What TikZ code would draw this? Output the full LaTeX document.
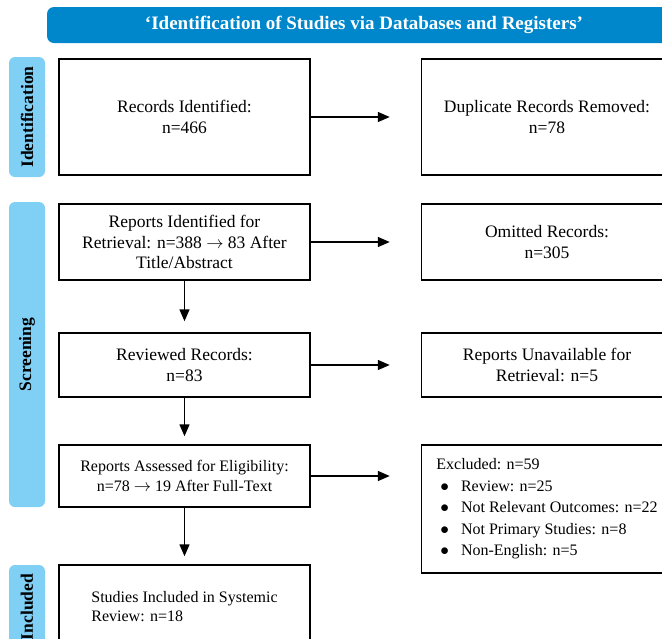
\documentclass[tikz,border=0pt]{standalone}
\usepackage{fontspec}
\setmainfont{Liberation Serif}
\usepackage{tikz}
\usetikzlibrary{arrows.meta, positioning, calc}
\definecolor{headblue}{RGB}{0, 134, 203}
\definecolor{sideblue}{RGB}{128, 208, 246}
\tikzset{
  headbar/.style={rectangle, fill=headblue, rounded corners=7pt, minimum width=634pt, minimum height=36pt, text=white, font=\fontsize{19}{22}\selectfont\bfseries},
  stagebar/.style={rectangle, fill=sideblue, rounded corners=6pt, rotate=90, minimum width=#1, minimum height=36pt, inner sep=0pt, font=\fontsize{17.5}{20}\selectfont\bfseries},
  flowbox/.style={rectangle, draw=black, line width=1.5pt, minimum width=251pt, minimum height=#1, align=center, font=\fontsize{17.5}{20.5}\selectfont},
  smalltext/.style={font=\fontsize{16}{20.5}\selectfont},
  flowarrow/.style={-{Triangle[length=12pt,width=10pt]}, line width=1.5pt},
}
\newcommand{\excitem}{\hspace*{4pt}$\bullet$\hspace{12pt}}

\begin{document}
\begin{tikzpicture}[x=1pt, y=-1pt]
\useasboundingbox (0,0) rectangle (662,638);
\clip (0,0) rectangle (662,638);
% header and stage bars
\node[headbar] (head) at (364,25) {‘Identification of Studies via Databases and Registers’};
\node[stagebar=120pt] (ident) at (27,117) {Identification};
\node[stagebar=305pt] (screen) at (27,354.5) {Screening};
\node[stagebar=84pt] (inclbar) at (27,607) {Included};
% left column
\node[flowbox=116pt] (rec) at (184.5,117) {Records Identified:\\n=466};
\node[flowbox=76pt] (retr) at (184.5,242) {Reports Identified for\\Retrieval: n=388 $\rightarrow$ 83 After\\Title/Abstract};
\node[flowbox=64pt] (revd) at (184.5,365) {Reviewed Records:\\n=83};
\node[flowbox=62pt, smalltext] (assess) at (184.5,476) {Reports Assessed for Eligibility:\\n=78 $\rightarrow$ 19 After Full-Text};
\node[flowbox=84pt, smalltext, align=left, font=\fontsize{16}{19}\selectfont] (incl) at (184.5,607) {Studies Included in Systemic\\Review: n=18};
% right column
\node[flowbox=116pt] (dup) at (547,117) {Duplicate Records Removed:\\n=78};
\node[flowbox=76pt] (omit) at (547,242) {Omitted Records:\\n=305};
\node[flowbox=64pt] (unavail) at (547,365) {Reports Unavailable for\\Retrieval: n=5};
\node[flowbox=128pt, smalltext, align=left, font=\fontsize{16}{21.5}\selectfont] (excl) at (547,509) {Excluded: n=59\\
  \excitem Review: n=25\\
  \excitem Not Relevant Outcomes: n=22\\
  \excitem Not Primary Studies: n=8\\
  \excitem Non-English: n=5};
% arrows
\draw[flowarrow, shorten >=31pt] (rec) -- (dup);
\draw[flowarrow, shorten >=31pt] (retr) -- (omit);
\draw[flowarrow, shorten >=31pt] (revd) -- (unavail);
\draw[flowarrow, shorten >=31pt] (assess.east) -- (assess.east -| excl.west);
\draw[flowarrow, shorten >=11pt] (retr) -- (revd);
\draw[flowarrow, shorten >=8pt] (revd) -- (assess);
\draw[flowarrow, shorten >=8pt] (assess) -- (incl);
\end{tikzpicture}
\end{document}
